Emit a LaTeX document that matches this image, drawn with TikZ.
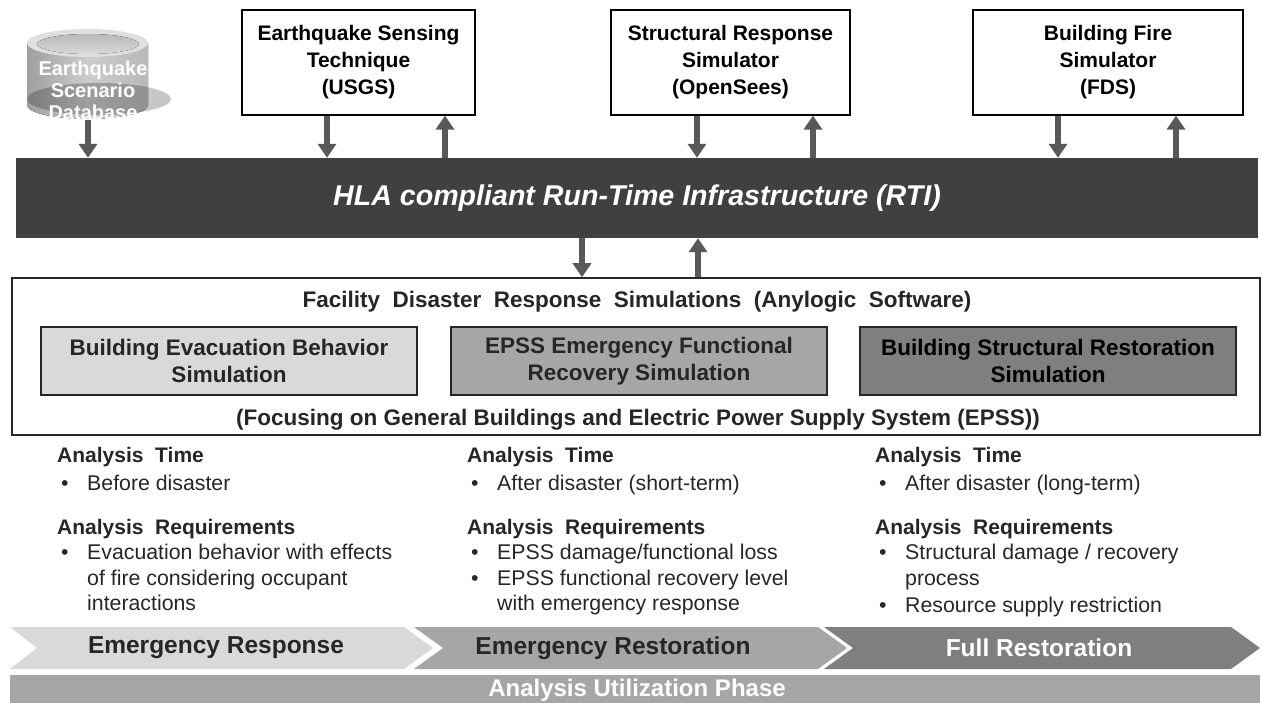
\documentclass[tikz,border=0pt]{standalone}
\usepackage{fontspec}
\setmainfont{Liberation Sans}
\usetikzlibrary{arrows.meta}
\definecolor{rtigray}{HTML}{404040}
\definecolor{arrgray}{HTML}{595959}
\definecolor{lgray}{HTML}{D9D9D9}
\definecolor{mgray}{HTML}{A6A6A6}
\definecolor{dgray}{HTML}{7F7F7F}
\definecolor{txt}{HTML}{262626}
\begin{document}
\begin{tikzpicture}[x=1pt,y=-1pt,
  arr/.style={draw=arrgray,line width=6pt,-{Triangle[width=18pt,length=14pt]}},
  topbox/.style={draw=black,line width=1.2pt,fill=white,minimum height=105pt,align=center,font=\fontsize{21}{27}\selectfont\bfseries,text=black,inner sep=0pt},
  simbox/.style={draw=txt,line width=1.5pt,minimum width=376pt,minimum height=68pt,align=center,font=\fontsize{22.5}{27}\selectfont\bfseries,inner sep=0pt},
  head/.style={anchor=base west,font=\fontsize{21}{24}\selectfont\bfseries,text=txt,inner sep=0pt},
  item/.style={anchor=base west,font=\fontsize{21.3}{24}\selectfont,text=txt,inner sep=0pt},
  chevtext/.style={font=\fontsize{24.5}{28}\selectfont\bfseries,inner sep=0pt}
]
\useasboundingbox (0,0) rectangle (1262,703);

% ---- database cylinder
\fill[left color=gray!75,right color=gray!55,middle color=gray!40]
  (27,43) -- (27,105) arc[start angle=180,end angle=0,x radius=60.5,y radius=14] -- (148,43) -- cycle;
\fill[black,opacity=0.22] (99,99) ellipse[x radius=72,y radius=16];
\fill[gray!25] (87.5,43) ellipse[x radius=60.5,y radius=14];
\fill[top color=gray!55,bottom color=gray!30] (88,44) ellipse[x radius=51,y radius=10];
\node[align=center,text=white,font=\fontsize{20}{22}\selectfont\bfseries,inner sep=0pt] (db) at (93,90) {Earthquake\\Scenario\\Database};
\coordinate (dbbot) at (88,120);

% ---- top boxes
\node[topbox,minimum width=233pt] (usgs) at (358.5,62.5) {Earthquake Sensing\\Technique\\(USGS)};
\node[topbox,minimum width=239pt] (opensees) at (730.5,62.5) {Structural Response\\Simulator\\(OpenSees)};
\node[topbox,minimum width=270pt] (fds) at (1108,62.5) {Building Fire\\Simulator\\(FDS)};

% ---- RTI bar
\node[fill=rtigray,minimum width=1242pt,minimum height=80pt,inner sep=0pt,text=white,
  font=\fontsize{28.6}{32}\selectfont\bfseries\itshape] (rti) at (637,198)
  {HLA compliant Run-Time Infrastructure (RTI)};

% ---- facility box
\node[draw=txt,line width=1.5pt,minimum width=1248pt,minimum height=157pt,inner sep=0pt] (fac) at (636,356.5) {};
\node[font=\fontsize{22.5}{25}\selectfont\bfseries,text=txt,inner sep=0pt] (factitle) at (637,302)
  {Facility\ \ Disaster\ \ Response\ \ Simulations\ \ (Anylogic\ \ Software)};
\node[simbox,fill=lgray,text=txt] (evac) at (229,361) {Building Evacuation Behavior\\Simulation};
\node[simbox,fill=mgray,text=txt] (epss) at (639,361) {EPSS Emergency Functional\\Recovery Simulation};
\node[simbox,fill=dgray,text=black] (struct) at (1048,361) {Building Structural Restoration\\Simulation};
\node[font=\fontsize{22.5}{25}\selectfont\bfseries,text=txt,inner sep=0pt] (focus) at (638,420)
  {(Focusing on General Buildings and Electric Power Supply System (EPSS))};

% ---- arrows
\coordinate (a1) at (327,0);
\coordinate (a2) at (445,0);
\coordinate (a3) at (697,0);
\coordinate (a4) at (813,0);
\coordinate (a5) at (1058,0);
\coordinate (a6) at (1176,0);
\coordinate (a7) at (582,0);
\coordinate (a8) at (698,0);
\draw[arr] (dbbot) -- (dbbot |- rti.north);
\draw[arr] (a1 |- usgs.south) -- (a1 |- rti.north);
\draw[arr] (a2 |- rti.north) -- (a2 |- usgs.south);
\draw[arr] (a3 |- opensees.south) -- (a3 |- rti.north);
\draw[arr] (a4 |- rti.north) -- (a4 |- opensees.south);
\draw[arr] (a5 |- fds.south) -- (a5 |- rti.north);
\draw[arr] (a6 |- rti.north) -- (a6 |- fds.south);
\draw[arr] (a7 |- rti.south) -- (a7 |- fac.north);
\draw[arr] (a8 |- fac.north) -- (a8 |- rti.south);

% ---- analysis columns
\node[head] (h1a) at (57,463) {Analysis\ \ Time};
\node[item] (b1a) at (61,490) {•};
\node[item] (t1a) at (87,490) {Before disaster};
\node[head] (h1b) at (57,534) {Analysis\ \ Requirements};
\node[item] (b1b) at (61,559) {•};
\node[item] (t1b) at (87,559) {Evacuation behavior with effects};
\node[item] (t1c) at (87,585) {of fire considering occupant};
\node[item] (t1d) at (87,610) {interactions};

\node[head] (h2a) at (467,463) {Analysis\ \ Time};
\node[item] (b2a) at (471,490) {•};
\node[item] (t2a) at (497,490) {After disaster (short-term)};
\node[head] (h2b) at (467,534) {Analysis\ \ Requirements};
\node[item] (b2b) at (471,559) {•};
\node[item] (t2b) at (497,559) {EPSS damage/functional loss};
\node[item] (b2c) at (471,585) {•};
\node[item] (t2c) at (497,585) {EPSS functional recovery level};
\node[item] (t2d) at (497,610) {with emergency response};

\node[head] (h3a) at (875,463) {Analysis\ \ Time};
\node[item] (b3a) at (879,490) {•};
\node[item] (t3a) at (905,490) {After disaster (long-term)};
\node[head] (h3b) at (875,534) {Analysis\ \ Requirements};
\node[item] (b3b) at (879,559) {•};
\node[item] (t3b) at (905,559) {Structural damage / recovery};
\node[item] (t3c) at (905,585) {process};
\node[item] (b3d) at (879,612) {•};
\node[item] (t3d) at (905,612) {Resource supply restriction};

% ---- chevrons
\fill[lgray] (10,627) -- (404,627) -- (433,648) -- (404,669) -- (10,669) -- (37,648) -- cycle;
\fill[mgray] (414,627) -- (818,627) -- (847,648) -- (818,669) -- (414,669) -- (443,648) -- cycle;
\fill[dgray] (824,627) -- (1231,627) -- (1260,648) -- (1231,669) -- (824,669) -- (853,648) -- cycle;
\node[chevtext,text=txt] (c1) at (216,648) {Emergency Response};
\node[chevtext,text=txt] (c2) at (613,648) {Emergency Restoration};
\node[chevtext,text=white] (c3) at (1039,648) {Full Restoration};

% ---- bottom bar
\fill[mgray] (10,675) rectangle (1260,703);
\node[font=\fontsize{24}{26}\selectfont\bfseries,text=white,inner sep=0pt] (phase) at (637,690) {Analysis Utilization Phase};
\end{tikzpicture}
\end{document}
